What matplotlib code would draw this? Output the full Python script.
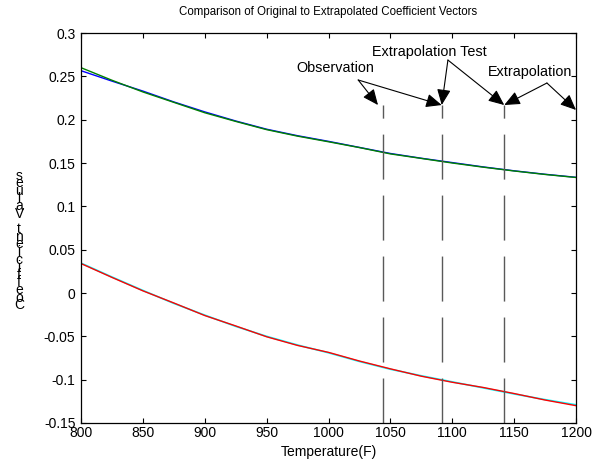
import numpy as np
import matplotlib
matplotlib.use("Agg")
import matplotlib.pyplot as plt
from matplotlib.ticker import FuncFormatter, MultipleLocator

# temperature grid (F)
temperature = [800, 825, 850, 875, 900, 925, 950, 975, 1000,
               1025, 1050, 1075, 1100, 1125, 1150, 1175, 1200]

# first coefficient: original vs extrapolated
coef1_original = [0.2565, 0.2445, 0.2330, 0.2205, 0.2090, 0.1985, 0.1890, 0.1815, 0.1750,
                  0.1680, 0.1610, 0.1555, 0.1505, 0.1455, 0.1410, 0.1370, 0.1335]
coef1_extrap = [0.2600, 0.2455, 0.2320, 0.2200, 0.2080, 0.1980, 0.1885, 0.1810, 0.1745,
                0.1678, 0.1605, 0.1553, 0.1500, 0.1452, 0.1408, 0.1368, 0.1333]

# second coefficient: original vs extrapolated
coef2_original = [0.0345, 0.0185, 0.0030, -0.0120, -0.0255, -0.0385, -0.0500, -0.0600, -0.0690,
                  -0.0790, -0.0880, -0.0955, -0.1025, -0.1095, -0.1165, -0.1230, -0.1290]
coef2_extrap = [0.0340, 0.0180, 0.0025, -0.0115, -0.0260, -0.0380, -0.0505, -0.0605, -0.0685,
                -0.0785, -0.0875, -0.0960, -0.1030, -0.1090, -0.1160, -0.1235, -0.1300]

# region boundaries and marker height
boundary_temps = [1044, 1092, 1142]
boundary_top = 0.217
edge_temp = 1200
edge_tip = 0.2112

# annotation labels: text anchor, arrow start, arrow tips
annotations = [
    ("Observation", (974, 0.2596), (1024, 0.2458), [(1040, 0.2169), (1091.5, 0.2169)]),
    ("Extrapolation Test", (1035, 0.2781), (1096.5, 0.2688), [(1091.5, 0.2169), (1142, 0.2169)]),
    ("Extrapolation", (1129, 0.2550), (1176.5, 0.2423), [(1142, 0.2169), (edge_temp, edge_tip)]),
]

ylabel_text = "Coefficient Values"

plt.rcParams.update({
    "font.family": ["Liberation Sans", "DejaVu Sans"],
    "font.size": 10,
    "axes.unicode_minus": False,
    "axes.linewidth": 0.9,
    "xtick.direction": "in",
    "ytick.direction": "in",
    "xtick.top": True,
    "ytick.right": True,
    "xtick.major.size": 3.5,
    "ytick.major.size": 3.5,
    "xtick.major.width": 0.8,
    "ytick.major.width": 0.8,
})

fig = plt.figure(figsize=(6.0, 4.63), dpi=100)
ax = fig.add_axes([0.135, 0.0864, 0.825, 0.8423])

ax.plot(temperature, coef1_original, color="blue", lw=1.0)
ax.plot(temperature, coef1_extrap, color="green", lw=1.0)
ax.plot(temperature, coef2_original, color="cyan", lw=1.2)
ax.plot(temperature, coef2_extrap, color="red", lw=1.0)

# dashed boundaries, drawn upward from the bottom of the axes
for t in boundary_temps:
    ax.plot([t, t], [-0.15, boundary_top], color="0.35", lw=1.0,
            linestyle=(0, (32.4, 11.5)))

for label, text_pos, start, tips in annotations:
    ax.text(text_pos[0], text_pos[1], label, ha="left", va="center", fontsize=10.4)
    for tip in tips:
        ax.annotate("", xy=tip, xytext=start, annotation_clip=False,
                    arrowprops=dict(arrowstyle="-|>,head_length=0.8,head_width=0.35",
                                    color="black", lw=0.8, shrinkA=0, shrinkB=0,
                                    mutation_scale=12))

ax.set_xlim(800, 1200)
ax.set_ylim(-0.15, 0.3)
ax.xaxis.set_major_locator(MultipleLocator(50))
ax.yaxis.set_major_locator(MultipleLocator(0.05))
ax.yaxis.set_major_formatter(FuncFormatter(lambda v, _: f"{round(v, 3):g}"))
ax.tick_params(axis="x", pad=2)
ax.tick_params(axis="y", pad=4)

ax.set_title("Comparison of Original to Extrapolated Coefficient Vectors",
             fontsize=8.3, pad=13)
ax.set_xlabel("Temperature(F)", labelpad=4)

# y label stacked one character per line, read from the bottom up
ax.text(-0.125, 0.468, "\n".join(reversed(ylabel_text)), transform=ax.transAxes,
        ha="center", va="center", multialignment="center", fontsize=10,
        linespacing=0.42)

fig.savefig("out.png", dpi=100)
